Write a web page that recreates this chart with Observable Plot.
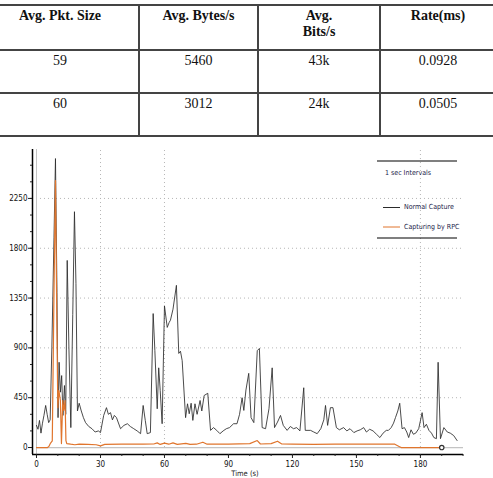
<!DOCTYPE html>
<html>
<head>
<meta charset="utf-8">
<script src="https://cdn.jsdelivr.net/npm/d3@7"></script>
<script src="https://cdn.jsdelivr.net/npm/@observablehq/plot@0.6"></script>
<style>
  html, body { margin: 0; padding: 0; background: #fff; }
  body { width: 493px; height: 478px; overflow: hidden; position: relative; }
  table.stats {
    position: absolute; left: -20px; top: 4px; width: 515px;
    border-collapse: collapse; table-layout: fixed;
    font-family: "Liberation Serif", "Times New Roman", serif; font-size: 14px; color: #111;
  }
  table.stats th, table.stats td {
    border: 2px solid #444; text-align: center; vertical-align: top;
    padding: 2px 4px 0 4px; line-height: 16px;
  }
  table.stats th { font-weight: bold; height: 41px; }
  table.stats td { height: 39px; }
  #chart { position: absolute; left: 0; top: 137px; }
</style>
</head>
<body>
<table class="stats" id="stats"></table>
<div id="chart"></div>
<script>
// Summary table
const tableHeaders = ["Avg. Pkt. Size", "Avg. Bytes/s", "Avg.<br>Bits/s", "Rate(ms)"];
const tableRows = [
  ["59", "5460", "43k", "0.0928"],
  ["60", "3012", "24k", "0.0505"]
];
const colWidths = [158, 119, 122, 116];

// Throughput per 1 sec interval: [time (s), bytes]
const normalCapture = [
  [0,200],[0.7,165],[1.4,245],[2.1,130],[2.8,220],[3.5,290],[4.3,380],[5,300],[5.7,225],[6.4,250],
  [7.2,900],[8.2,1900],[8.9,2610],[9.6,1400],[10.1,270],[10.6,770],[11.2,500],[11.8,650],[12.4,290],
  [13.1,560],[13.7,300],[14.4,1690],[15.2,900],[16.1,180],[17.0,1200],[17.8,2130],[18.5,1480],[19.2,330],
  [20,400],[21,330],[22,270],[23,225],[24.5,190],[26,170],[27.5,140],[29,150],[30,135],[31.5,290],
  [32.8,360],[33.7,300],[34.7,315],[35.6,250],[36.5,290],[37.5,270],[39.4,170],[41,200],[42.6,215],
  [44,190],[45.6,170],[47.2,150],[48.8,125],[50,380],[51,245],[51.9,125],[53.4,135],[54.7,1210],
  [55.5,875],[56.6,350],[57.3,720],[58,515],[58.9,215],[60,1280],[61.3,1085],[62.2,1130],[62.8,1150],
  [64,1250],[65.6,1465],[66.7,850],[67.5,870],[68.3,785],[69.9,270],[70.8,395],[71.6,305],[72.5,400],
  [73.3,245],[74.3,395],[75.3,300],[76.7,425],[77.5,330],[78.6,470],[80.3,490],[81.6,155],[83,180],
  [84.5,155],[86,125],[87.5,150],[89,170],[90.5,180],[92.4,215],[94,215],[95.2,300],[96.4,450],
  [97.2,335],[98.2,520],[99.5,670],[100.6,270],[101.9,225],[103.5,875],[104.5,895],[105.8,180],
  [107.4,170],[109,350],[110.5,720],[111.6,180],[113,230],[114.4,290],[115.7,200],[117.5,155],
  [119,190],[120.5,170],[122,180],[123.5,150],[125.3,540],[126,155],[128.5,155],[130,140],[131.6,125],
  [133.3,170],[134.7,250],[135.5,380],[136.5,200],[137.8,360],[139,360],[140.6,180],[142,160],
  [144,180],[145.5,150],[147,170],[148.8,135],[150.3,150],[151.8,160],[153.4,180],[154.7,140],
  [156.2,165],[157.8,150],[159.4,120],[161,90],[162.5,130],[164,155],[165,155],[166.3,180],[167.4,220],
  [168.3,270],[169.4,330],[170.3,400],[171.4,170],[172.5,180],[173.6,140],[174.5,90],[175.6,160],
  [176.7,120],[177.8,130],[179.2,170],[180.8,315],[181.7,180],[182.8,210],[184,155],[185.2,130],
  [186.3,90],[187.5,80],[188.3,770],[189.4,80],[191,180],[192.6,140],[194,130],[195.6,108],[197.2,63]
];
const rpcCapture = [
  [0,0],[5.2,0],[5.8,10],[6.6,40],[7.4,60],[8.2,1400],[8.9,2410],[9.5,1200],[10,360],[10.5,515],
  [11.2,425],[11.7,36],[12.3,425],[12.8,335],[13.4,425],[13.8,63],[14.2,36],[16,30],[18,25],[20,30],
  [24,28],[28,25],[30,15],[32,28],[40,30],[50,30],[55,32],[56.6,42],[58,28],[60,40],[62,30],[64,42],
  [66,28],[70,38],[72,28],[75,30],[78,48],[80,30],[90,30],[100,35],[103.5,63],[105,32],[110,35],
  [113,57],[115,32],[120,30],[130,28],[140,30],[150,30],[160,32],[168,30],[170,10],[171,0],[190,0]
];
const endMarker = [[190, 0]];

const xTicks = [0, 30, 60, 90, 120, 150, 180];
const yTicks = [0, 450, 900, 1350, 1800, 2250];
const xMinor = d3.range(0, 201, 10);
const yMinor = d3.range(0, 2700, 150);
const xGrid = [30, 60, 180];
const xTitle = "Time (s)";
const legendTitle = "1 sec Intervals";
const seriesNames = ["Normal Capture", "Capturing by RPC"];
const seriesColors = ["#2b2b2b", "#e0752d"];

// Build the table
const table = document.getElementById("stats");
const cg = document.createElement("colgroup");
colWidths.forEach(w => { const c = document.createElement("col"); c.style.width = w + "px"; cg.appendChild(c); });
table.appendChild(cg);
const hr = table.insertRow();
tableHeaders.forEach(h => { const th = document.createElement("th"); th.innerHTML = h; hr.appendChild(th); });
tableRows.forEach(r => { const tr = table.insertRow(); r.forEach(v => { tr.insertCell().textContent = v; }); });

const xMin = -1.875, xMax = 200.2, yMin = -63, yMax = 2692;
const tickFont = "'Liberation Sans Narrow', 'DejaVu Sans Condensed', 'Liberation Sans', sans-serif";
const plain = d => String(d);

const chart = Plot.plot({
  width: 493,
  height: 341,
  marginLeft: 32,
  marginRight: 30,
  marginTop: 12,
  marginBottom: 24,
  x: {domain: [xMin, xMax]},
  y: {domain: [yMin, yMax]},
  style: {fontFamily: tickFont, fontSize: "8px", color: "#111", background: "#fff"},
  marks: [
    Plot.ruleY(yTicks.slice(1), {x1: 0, x2: xMax, stroke: "#b5b5b5", strokeDasharray: "1,3"}),
    Plot.ruleX(xGrid, {y1: 0, y2: yMax, stroke: "#b5b5b5", strokeDasharray: "1,3"}),
    Plot.ruleX([0], {y1: yMin, y2: yMax, stroke: "#c4c4c4"}),
    Plot.ruleY([0], {x1: 0, x2: xMax, stroke: "#c4c4c4", strokeWidth: 1.2}),
    Plot.line(normalCapture, {x: d => d[0], y: d => d[1], stroke: seriesColors[0], strokeWidth: 1, strokeOpacity: 0.85}),
    Plot.line(rpcCapture, {x: d => d[0], y: d => d[1], stroke: seriesColors[1], strokeWidth: 1.2}),
    Plot.dot(endMarker, {x: d => d[0], y: d => d[1], r: 2.2, stroke: "#333", strokeWidth: 1.2, fill: "#fff"}),
    Plot.ruleX([xMin], {y1: yMin, y2: yMax, stroke: "#000", strokeWidth: 1.5}),
    Plot.ruleY([yMin], {x1: xMin, x2: xMax, stroke: "#000", strokeWidth: 1.5}),
    Plot.axisY(yMinor, {tickSize: 2, tickFormat: () => "", stroke: "#222"}),
    Plot.axisY(yTicks, {tickSize: 4, tickPadding: 1, tickFormat: plain, stroke: "#222", label: null}),
    Plot.axisX(xMinor, {tickSize: 2, tickFormat: () => "", stroke: "#222"}),
    Plot.axisX(xTicks, {tickSize: 4, tickPadding: 3, tickFormat: plain, stroke: "#222", label: null})
  ]
});
document.getElementById("chart").appendChild(chart);

// Axis title and legend box
const svg = d3.select(chart);
svg.append("text").attr("x", 245).attr("y", 339).attr("text-anchor", "middle")
  .attr("font-family", tickFont).attr("font-size", 7.5).attr("fill", "#222").text(xTitle);

const lg = svg.append("g").attr("font-family", tickFont).attr("font-size", 7)
  .attr("fill", "#1c1c4a").attr("text-anchor", "start");
lg.append("line").attr("x1", 377).attr("x2", 457).attr("y1", 24).attr("y2", 24).attr("stroke", "#000").attr("stroke-width", 1.2);
lg.append("line").attr("x1", 377).attr("x2", 457).attr("y1", 101).attr("y2", 101).attr("stroke", "#000").attr("stroke-width", 1.2);
lg.append("text").attr("x", 385).attr("y", 36).attr("dy", "0.35em").text(legendTitle);
seriesNames.forEach((name, i) => {
  const y = 70.5 + i * 19.5;
  lg.append("line").attr("x1", 383).attr("x2", 400).attr("y1", y).attr("y2", y).attr("stroke", seriesColors[i]).attr("stroke-width", 1);
  lg.append("text").attr("x", 404).attr("y", y - 0.5).attr("dy", "0.35em").text(name);
});
</script>
</body>
</html>
